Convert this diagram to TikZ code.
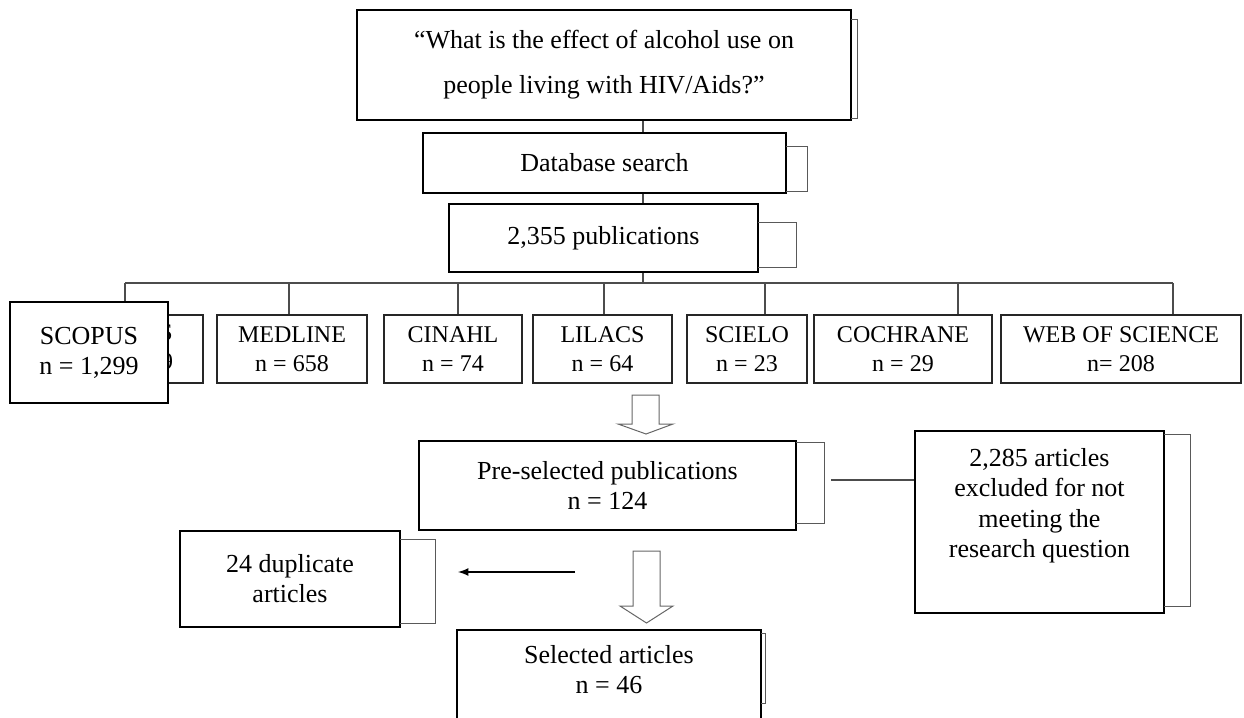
\documentclass[tikz,border=0pt]{standalone}
\usepackage{fontspec}
\setmainfont{Liberation Serif}
\usetikzlibrary{arrows}

\tikzset{
  box/.style={draw=black, line width=0.8pt, fill=white, align=center, inner sep=0pt,
    font=\fontsize{13}{15}\selectfont},
  dbbox/.style={draw=black!85, line width=0.6pt, fill=white, align=center, inner sep=0pt,
    minimum height=34pt, font=\fontsize{12}{14.5}\selectfont},
  link/.style={draw=black!70, line width=0.6pt},
  shade/.style={draw=black!65, line width=0.5pt},
  hollow/.style={draw=black!60, line width=0.5pt, fill=white}
}

\begin{document}
\begin{tikzpicture}[x=0.5pt,y=-0.5pt]
    \clip (0,0) rectangle (1244,718);

    % question and search
    \node [box, minimum width=247pt, minimum height=55pt, font=\fontsize{13}{22.5}\selectfont]
      (question) at (604,65) {“What is the effect of alcohol use on\\people living with HIV/Aids?”};
    \node [box, minimum width=181.5pt, minimum height=30pt] (database) at (604.5,163) {Database search};
    \node [box, minimum width=154.5pt, minimum height=34pt] (pubs) at (603.5,238) {2,355 publications};

    \draw [shade] (851,19) -- (857,19) -- (857,118) -- (851,118);
    \draw [shade] (786,146) -- (807,146) -- (807,191) -- (786,191);
    \draw [shade] (758,222) -- (796,222) -- (796,267) -- (758,267);

    % databases
    \node [dbbox, minimum width=75.5pt] (scopusbg) at (127.5,349) {SCOPUS\\n = 1,299};
    \node [dbbox, minimum width=75pt] (medline) at (292,349) {MEDLINE\\n = 658};
    \node [dbbox, minimum width=69pt] (cinahl) at (453,349) {CINAHL\\n = 74};
    \node [dbbox, minimum width=69.5pt] (lilacs) at (602.5,349) {LILACS\\n = 64};
    \node [dbbox, minimum width=60pt] (scielo) at (747,349) {SCIELO\\n = 23};
    \node [dbbox, minimum width=89pt] (cochrane) at (903,349) {COCHRANE\\n = 29};
    \node [dbbox, minimum width=120pt] (wos) at (1121,349) {WEB OF SCIENCE\\n= 208};

    \coordinate (spine) at (643,0);
    \coordinate (bus) at (643,283);
    \coordinate (d1) at (125,283);
    \coordinate (d2) at (289,283);
    \coordinate (d3) at (458,283);
    \coordinate (d4) at (604,283);
    \coordinate (d5) at (765,283);
    \coordinate (d6) at (958,283);
    \coordinate (d7) at (1173,283);

    \draw [link] (question.south -| spine) -- (database.north -| spine);
    \draw [link] (database.south -| spine) -- (pubs.north -| spine);
    \draw [link] (pubs.south -| spine) -- (bus);
    \draw [link] (d1) -- (d7);
    \draw [link] (d1) -- (d1 |- scopusbg.north);
    \draw [link] (d2) -- (d2 |- medline.north);
    \draw [link] (d3) -- (d3 |- cinahl.north);
    \draw [link] (d4) -- (d4 |- lilacs.north);
    \draw [link] (d5) -- (d5 |- scielo.north);
    \draw [link] (d6) -- (d6 |- cochrane.north);
    \draw [link] (d7) -- (d7 |- wos.north);

    \node [box, line width=1pt, minimum width=79pt, minimum height=50.5pt] (scopus) at (89,352.5) {SCOPUS\\n = 1,299};

    % screening
    \draw [hollow] (632,395) -- (659,395) -- (659,424) -- (673,424) -- (646,434) -- (618,424) -- (632,424) -- cycle;

    \node [box, minimum width=188.5pt, minimum height=44.5pt] (preselected) at (607.5,485.5) {Pre-selected publications\\n = 124};
    \draw [shade] (796,442) -- (824,442) -- (824,523) -- (796,523);

    \node [box, minimum width=124.5pt, minimum height=91pt] (excluded) at (1039.5,522) {};
    \node [align=center, anchor=north, inner sep=0pt, font=\fontsize{13}{15.25}\selectfont]
      (exclabel) at (1039.5,448) {2,285 articles\\excluded for not\\meeting the\\research question};
    \draw [shade] (1164,434) -- (1190,434) -- (1190,606) -- (1164,606);

    \coordinate (exfrom) at (831,480);
    \draw [link, line width=1pt] (exfrom) -- (exfrom -| excluded.west);

    \node [box, minimum width=110pt, minimum height=48pt] (dup) at (290,579) {24 duplicate\\articles};
    \draw [shade] (400,539) -- (435,539) -- (435,623) -- (400,623);

    \coordinate (dupfrom) at (575,572);
    \coordinate (dupto) at (458,572);
    \draw [thick,-latex] (dupfrom) -- (dupto);

    \draw [hollow] (633,551) -- (660,551) -- (660,606) -- (673,606) -- (646.5,623) -- (620,606) -- (633,606) -- cycle;

    \node [box, minimum width=152pt, minimum height=65pt, anchor=north] (selected) at (609,629) {};
    \node [align=center, anchor=north, inner sep=0pt, font=\fontsize{13}{15}\selectfont]
      (sellabel) at (609,645) {Selected articles\\n = 46};
    \draw [shade] (761,633) -- (765,633) -- (765,703) -- (761,703);
  \end{tikzpicture}
\end{document}
